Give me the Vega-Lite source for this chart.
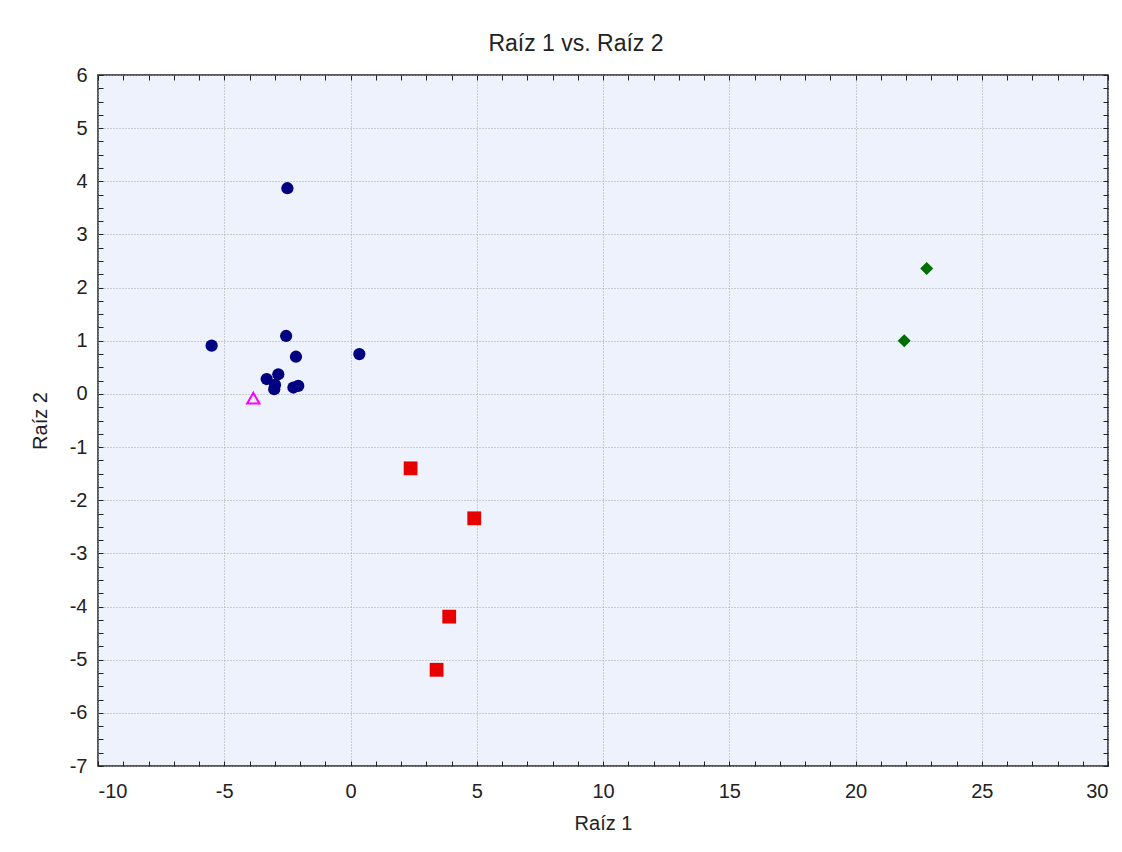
{
  "$schema": "https://vega.github.io/schema/vega-lite/v6.json",
  "width": 1010,
  "height": 691,
  "autosize": {"type": "none"},
  "padding": {"left": 98, "top": 75, "right": 14, "bottom": 86},
  "background": "white",
  "title": {"text": "Raíz 1 vs. Raíz 2", "font": "Liberation Sans", "fontSize": 23, "fontWeight": "normal", "color": "#222222", "offset": 9, "dx": -27},
  "config": {
    "view": {"fill": "#EEF2FC", "stroke": "#222222", "strokeWidth": 1.5},
    "axis": {"labelFont": "Liberation Sans", "titleFont": "Liberation Sans", "labelColor": "#222222", "titleColor": "#222222", "labelFontSize": 20, "titleFontSize": 20, "titleFontWeight": "normal", "domain": false, "tickColor": "#222222", "gridColor": "#A4A4A4", "gridDash": [1, 2], "gridWidth": 1, "labelExpr": "toString(datum.value)"}
  },
  "datasets": {
    "pts": [
      {"g": "A", "x": -2.50, "y": 3.87},
      {"g": "A", "x": -5.50, "y": 0.91},
      {"g": "A", "x": -2.55, "y": 1.09},
      {"g": "A", "x": -2.16, "y": 0.70},
      {"g": "A", "x": 0.35, "y": 0.75},
      {"g": "A", "x": -3.32, "y": 0.28},
      {"g": "A", "x": -2.86, "y": 0.37},
      {"g": "A", "x": -3.02, "y": 0.09},
      {"g": "A", "x": -2.99, "y": 0.17},
      {"g": "A", "x": -2.26, "y": 0.12},
      {"g": "A", "x": -2.07, "y": 0.15},
      {"g": "D", "x": -3.85, "y": -0.08},
      {"g": "B", "x": 2.38, "y": -1.40},
      {"g": "B", "x": 4.90, "y": -2.34},
      {"g": "B", "x": 3.91, "y": -4.19},
      {"g": "B", "x": 3.41, "y": -5.19},
      {"g": "C", "x": 22.82, "y": 2.36},
      {"g": "C", "x": 21.93, "y": 1.00}
    ]
  },
  "data": {"name": "pts"},
  "layer": [
    {
      "mark": {"type": "point", "opacity": 0},
      "encoding": {
        "x": {"field": "x", "type": "quantitative", "scale": {"domain": [-10, 30], "nice": false, "zero": false},
          "axis": {"orient": "bottom", "values": [-10, -5, 0, 5, 10, 15, 20, 25, 30], "grid": true, "ticks": false, "labelPadding": 15, "title": "Raíz 1", "titlePadding": 12}},
        "y": {"field": "y", "type": "quantitative", "scale": {"domain": [-7, 6], "nice": false, "zero": false},
          "axis": {"orient": "left", "values": [-7, -6, -5, -4, -3, -2, -1, 0, 1, 2, 3, 4, 5, 6], "grid": true, "ticks": false, "labelPadding": 11, "title": "Raíz 2", "titlePadding": 19}}
      }
    },
    {
      "mark": {"type": "point", "opacity": 0},
      "encoding": {
        "x": {"field": "x", "type": "quantitative",
          "axis": {"orient": "bottom", "values": [-10,-9,-8,-7,-6,-5,-4,-3,-2,-1,0,1,2,3,4,5,6,7,8,9,10,11,12,13,14,15,16,17,18,19,20,21,22,23,24,25,26,27,28,29,30], "grid": false, "labels": false, "tickSize": -5, "title": null}},
        "y": {"field": "y", "type": "quantitative",
          "axis": {"orient": "left", "values": [-7,-6.75,-6.5,-6.25,-6,-5.75,-5.5,-5.25,-5,-4.75,-4.5,-4.25,-4,-3.75,-3.5,-3.25,-3,-2.75,-2.5,-2.25,-2,-1.75,-1.5,-1.25,-1,-0.75,-0.5,-0.25,0,0.25,0.5,0.75,1,1.25,1.5,1.75,2,2.25,2.5,2.75,3,3.25,3.5,3.75,4,4.25,4.5,4.75,5,5.25,5.5,5.75,6], "grid": false, "labels": false, "tickSize": -5, "title": null}}
      }
    },
    {
      "mark": {"type": "point", "opacity": 0},
      "encoding": {
        "x": {"field": "x", "type": "quantitative",
          "axis": {"orient": "top", "values": [-10,-9,-8,-7,-6,-5,-4,-3,-2,-1,0,1,2,3,4,5,6,7,8,9,10,11,12,13,14,15,16,17,18,19,20,21,22,23,24,25,26,27,28,29,30], "grid": false, "labels": false, "tickSize": -5, "title": null}},
        "y": {"field": "y", "type": "quantitative",
          "axis": {"orient": "right", "values": [-7,-6.75,-6.5,-6.25,-6,-5.75,-5.5,-5.25,-5,-4.75,-4.5,-4.25,-4,-3.75,-3.5,-3.25,-3,-2.75,-2.5,-2.25,-2,-1.75,-1.5,-1.25,-1,-0.75,-0.5,-0.25,0,0.25,0.5,0.75,1,1.25,1.5,1.75,2,2.25,2.5,2.75,3,3.25,3.5,3.75,4,4.25,4.5,4.75,5,5.25,5.5,5.75,6], "grid": false, "labels": false, "tickSize": -5, "title": null}}
      }
    },
    {
      "transform": [{"filter": {"field": "g", "equal": "A"}}],
      "mark": {"type": "point", "shape": "circle", "filled": true, "color": "#000080", "opacity": 1, "size": 150},
      "encoding": {
        "x": {"field": "x", "type": "quantitative", "axis": null},
        "y": {"field": "y", "type": "quantitative", "axis": null}
      }
    },
    {
      "transform": [{"filter": {"field": "g", "equal": "B"}}],
      "mark": {"type": "point", "shape": "square", "filled": true, "color": "#E60000", "opacity": 1, "size": 190},
      "encoding": {
        "x": {"field": "x", "type": "quantitative", "axis": null},
        "y": {"field": "y", "type": "quantitative", "axis": null}
      }
    },
    {
      "transform": [{"filter": {"field": "g", "equal": "C"}}],
      "mark": {"type": "point", "shape": "diamond", "filled": true, "color": "#006E00", "opacity": 1, "size": 170},
      "encoding": {
        "x": {"field": "x", "type": "quantitative", "axis": null},
        "y": {"field": "y", "type": "quantitative", "axis": null}
      }
    },
    {
      "transform": [{"filter": {"field": "g", "equal": "D"}}],
      "mark": {"type": "point", "shape": "triangle-up", "filled": false, "color": "#FF00FF", "strokeWidth": 2, "opacity": 1, "size": 150},
      "encoding": {
        "x": {"field": "x", "type": "quantitative", "axis": null},
        "y": {"field": "y", "type": "quantitative", "axis": null}
      }
    }
  ],
  "resolve": {"axis": {"x": "independent", "y": "independent"}}
}
